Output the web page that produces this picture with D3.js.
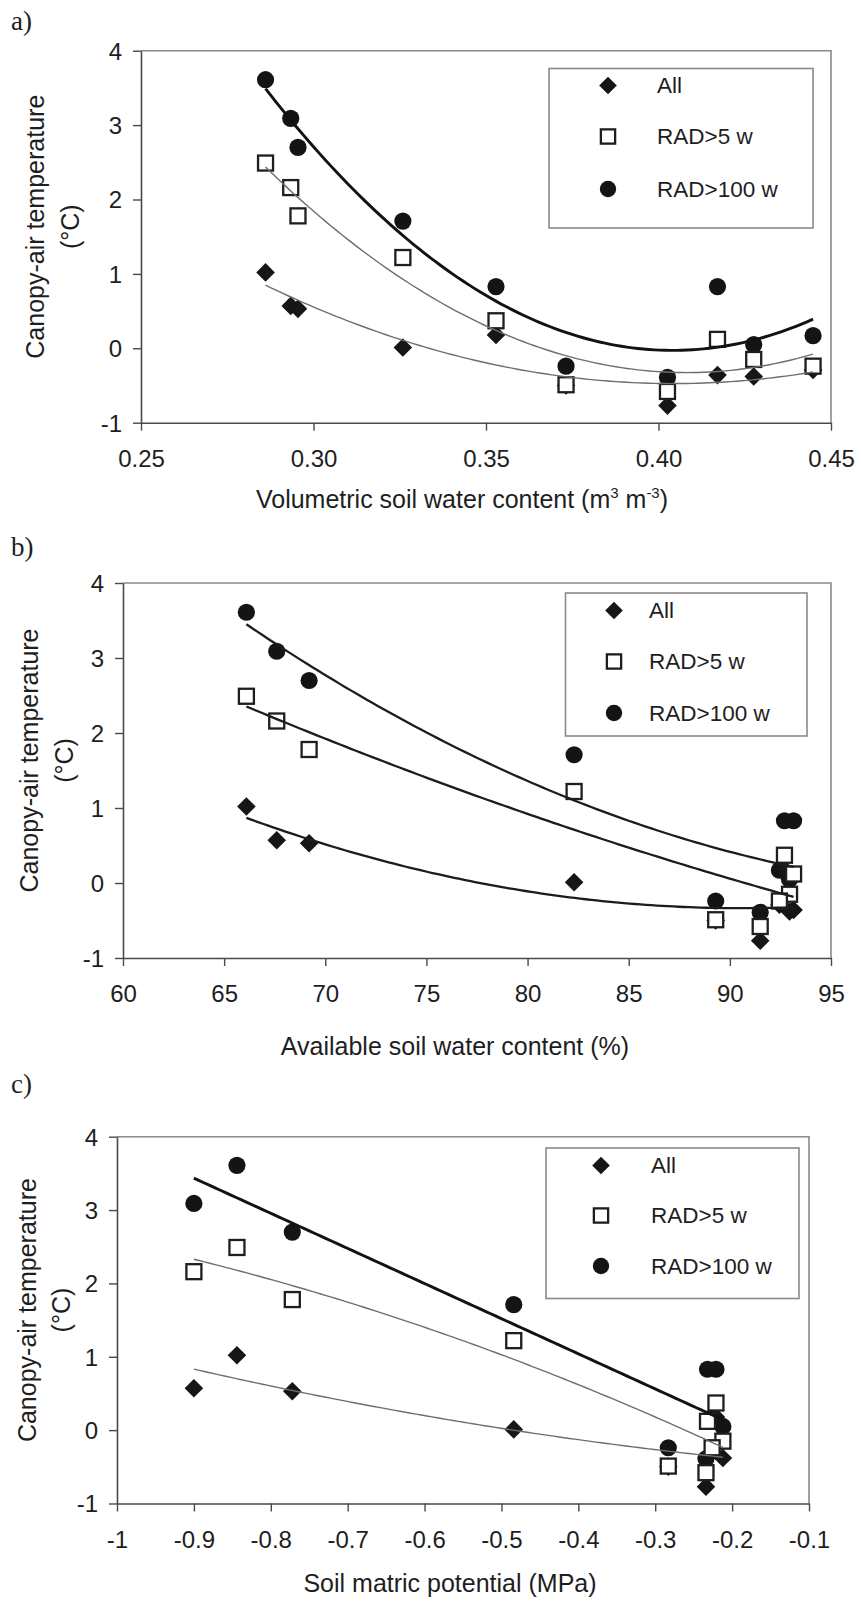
<!DOCTYPE html>
<html>
<head>
<meta charset="utf-8">
<script src="https://cdn.jsdelivr.net/npm/d3@7"></script>
<style>
  html, body { margin: 0; padding: 0; background: #fff; }
  svg text { font-family: "Liberation Sans", Arial, Helvetica, sans-serif; fill: #1e1e1e; }
</style>
</head>
<body>
<svg id="fig" width="861" height="1602"></svg>
<script>
// Canopy-air temperature difference (°C) for ten measurement days,
// plotted against three measures of soil water status.
const seriesNames = ["All", "RAD>5 w", "RAD>100 w"];
const allValues    = [1.02, 0.57, 0.53, 0.01, 0.18, -0.50, -0.77, -0.36, -0.38, -0.29];
const rad5Values   = [2.49, 2.16, 1.78, 1.22, 0.37, -0.49, -0.58, 0.12, -0.15, -0.24];
const rad100Values = [3.61, 3.09, 2.70, 1.71, 0.83, -0.24, -0.39, 0.83, 0.05, 0.17];

// Soil water measures for the same ten days
const volumetricWater = [0.2861, 0.2934, 0.2955, 0.3259, 0.3529, 0.3732, 0.4026, 0.4171, 0.4276, 0.4448];
const availableWater  = [66.1, 67.6, 69.2, 82.3, 92.7, 89.3, 91.5, 93.15, 92.95, 92.45];
const matricPotential = [-0.844, -0.900, -0.772, -0.484, -0.221, -0.283, -0.234, -0.232, -0.212, -0.226];

// Tick values
const yTicks = [-1, 0, 1, 2, 3, 4];
const volumetricTicks = [0.25, 0.30, 0.35, 0.40, 0.45];
const availableTicks = [60, 65, 70, 75, 80, 85, 90, 95];
const matricTicks = [-1, -0.9, -0.8, -0.7, -0.6, -0.5, -0.4, -0.3, -0.2, -0.1];

const hyphen = s => s.replace("\u2212", "-");

const svg = d3.select("#fig");
svg.append("rect").attr("width", 861).attr("height", 1602).attr("fill", "#fff");

// Least-squares polynomial trend line
function polyFit(xs, ys, deg) {
  const mx = d3.mean(xs);
  const n = deg + 1;
  const A = Array.from({ length: n }, () => new Array(n + 1).fill(0));
  xs.forEach((x0, k) => {
    const x = x0 - mx;
    for (let i = 0; i < n; i++) {
      for (let j = 0; j < n; j++) A[i][j] += Math.pow(x, i + j);
      A[i][n] += ys[k] * Math.pow(x, i);
    }
  });
  for (let i = 0; i < n; i++) {
    let p = i;
    for (let r = i + 1; r < n; r++) if (Math.abs(A[r][i]) > Math.abs(A[p][i])) p = r;
    [A[i], A[p]] = [A[p], A[i]];
    for (let r = 0; r < n; r++) {
      if (r === i) continue;
      const f = A[r][i] / A[i][i];
      for (let c = i; c <= n; c++) A[r][c] -= f * A[i][c];
    }
  }
  const coef = A.map((row, i) => row[n] / row[i]);
  return x => coef.reduce((s, c, i) => s + c * Math.pow(x - mx, i), 0);
}

function label(g, str, x, y, opts = {}) {
  const t = g.append("text")
    .attr("transform", `translate(${x},${y}) rotate(${opts.rotate || 0})`)
    .attr("text-anchor", opts.anchor || "start")
    .attr("font-size", opts.size || 24);
  if (opts.dy) t.attr("dy", opts.dy);
  if (opts.family) t.style("font-family", opts.family);
  t.text(str);
  return t;
}

const diamondPath = r => `M0,${-r}L${r},0L0,${r}L${-r},0Z`;

function drawMarker(g, kind, x, y, s = 1) {
  if (kind === 0) {
    g.append("path").attr("transform", `translate(${x},${y})`)
      .attr("d", diamondPath(9.3 * s)).attr("fill", "#161616");
  } else if (kind === 1) {
    const h = 7.5 * s;
    g.append("rect").attr("x", x - h).attr("y", y - h).attr("width", 2 * h).attr("height", 2 * h)
      .attr("fill", "#fff").attr("stroke", "#1e1e1e").attr("stroke-width", 2.3);
  } else {
    g.append("circle").attr("cx", x).attr("cy", y).attr("r", 8.6 * s).attr("fill", "#141414");
  }
}

const thin = { stroke: "#6e6e6e", width: 1.4 };
const thick = { stroke: "#121212", width: 2.9 };
const mid = { stroke: "#1c1c1c", width: 2.3 };

const panels = [
  {
    tag: "a)", tagY: 30,
    xValues: volumetricWater, xDomain: [0.25, 0.45], xTicks: volumetricTicks,
    xFmt: d => d.toFixed(2),
    box: { left: 141, right: 831, top: 50.7, bottom: 422.7 },
    xTitle: ["Volumetric soil water content (m", "3", " m", "-3", ")"], xTitleX: 462, xTitleY: 508,
    yTitleX: [35, 70], yTitleShift: -10,
    fitDeg: [2, 2, 2], lines: [thin, thin, thick],
    legend: { x0: 549, x1: 813, y0: 68.5, y1: 228, mx: 608, tx: 657, rows: [85.5, 136.5, 189] }
  },
  {
    tag: "b)", tagY: 556,
    xValues: availableWater, xDomain: [60, 95], xTicks: availableTicks,
    xFmt: d => String(d),
    box: { left: 123, right: 831, top: 583, bottom: 958 },
    xTitle: ["Available soil water content (%)"], xTitleX: 455, xTitleY: 1055,
    yTitleX: [29, 64], yTitleShift: -10,
    fitDeg: [2, 2, 2], lines: [mid, mid, mid],
    legend: { x0: 565.5, x1: 807, y0: 593, y1: 736, mx: 614, tx: 649, rows: [610.5, 661.5, 713] }
  },
  {
    tag: "c)", tagY: 1093,
    xValues: matricPotential, xDomain: [-1, -0.1], xTicks: matricTicks,
    xFmt: d => (Math.abs(d + 1) < 1e-9 ? "-1" : hyphen(d3.format(".1f")(d))),
    box: { left: 117, right: 809, top: 1136.7, bottom: 1503.5 },
    xTitle: ["Soil matric potential (MPa)"], xTitleX: 450, xTitleY: 1592,
    yTitleX: [27, 61], yTitleShift: -10,
    fitDeg: [2, 2, 1], lines: [thin, thin, thick],
    legend: { x0: 546, x1: 799, y0: 1148, y1: 1298.5, mx: 601, tx: 651, rows: [1165.5, 1215.5, 1266] }
  }
];

const seriesValues = [allValues, rad5Values, rad100Values];

panels.forEach(p => {
  const g = svg.append("g");
  const b = p.box;
  const x = d3.scaleLinear().domain(p.xDomain).range([b.left, b.right]);
  const y = d3.scaleLinear().domain([-1, 4]).range([b.bottom, b.top]);

  // panel letter
  label(g, p.tag, 11, p.tagY, { size: 27, family: "'Liberation Serif', 'DejaVu Serif', serif" });

  // top and right frame
  g.append("path")
    .attr("d", `M${b.left},${b.top}H${b.right}V${b.bottom}`)
    .attr("fill", "none").attr("stroke", "#8a8a8a").attr("stroke-width", 1.6);

  // axes
  const xAxis = g.append("g").attr("transform", `translate(0,${b.bottom})`)
    .call(d3.axisBottom(x).tickValues(p.xTicks).tickSize(8).tickSizeOuter(0).tickFormat(p.xFmt));
  const yAxis = g.append("g").attr("transform", `translate(${b.left},0)`)
    .call(d3.axisLeft(y).tickValues(yTicks).tickSize(8).tickSizeOuter(0).tickFormat(d => hyphen(String(d))));
  [xAxis, yAxis].forEach(a => {
    a.select(".domain").attr("stroke", "#4a4a4a").attr("stroke-width", 1.6);
    a.selectAll(".tick line").attr("stroke", "#4a4a4a").attr("stroke-width", 1.4);
    a.selectAll(".tick text").attr("fill", "#1e1e1e").attr("font-size", 24)
      .style("font-family", "'Liberation Sans', Arial, sans-serif");
  });
  xAxis.selectAll(".tick text").attr("y", 27).attr("dy", "0.71em");
  yAxis.selectAll(".tick text").attr("x", -19).attr("dy", "0.35em");

  // axis titles
  const yc = (b.top + b.bottom) / 2 + p.yTitleShift;
  label(g, "Canopy-air temperature", p.yTitleX[0], yc, { size: 25, anchor: "middle", rotate: -90, dy: "0.35em" });
  label(g, "(\u00B0C)", p.yTitleX[1], yc, { size: 25, anchor: "middle", rotate: -90, dy: "0.35em" });

  const xt = g.append("text")
    .attr("x", p.xTitleX).attr("y", p.xTitleY)
    .attr("text-anchor", "middle").attr("font-size", 25);
  p.xTitle.forEach((part, i) => {
    if (i % 2 === 1) {
      xt.append("tspan").attr("dy", -10).attr("font-size", 15).text(part);
    } else {
      const ts = xt.append("tspan").text(part);
      if (i > 0) ts.attr("dy", 10);
    }
  });

  // markers: circles, then diamonds, then open squares
  const mg = g.append("g");
  [2, 0, 1].forEach(s => {
    seriesValues[s].forEach((v, i) => drawMarker(mg, s, x(p.xValues[i]), y(v)));
  });

  // trend lines
  const lineGen = d3.line().x(d => x(d[0])).y(d => y(d[1]));
  [0, 1, 2].forEach(s => {
    const f = polyFit(p.xValues, seriesValues[s], p.fitDeg[s]);
    const [lo, hi] = d3.extent(p.xValues);
    const pts = d3.range(0, 101).map(k => {
      const xv = lo + (hi - lo) * k / 100;
      return [xv, f(xv)];
    });
    g.append("path").attr("d", lineGen(pts))
      .attr("fill", "none").attr("stroke", p.lines[s].stroke)
      .attr("stroke-width", p.lines[s].width).attr("stroke-linejoin", "round");
  });

  // legend
  const L = p.legend;
  const lg = g.append("g");
  lg.append("rect").attr("x", L.x0).attr("y", L.y0)
    .attr("width", L.x1 - L.x0).attr("height", L.y1 - L.y0)
    .attr("fill", "#fff").attr("stroke", "#8a8a8a").attr("stroke-width", 1.6);
  seriesNames.forEach((name, s) => {
    drawMarker(lg, s, L.mx, L.rows[s], 0.95);
    label(lg, name, L.tx, L.rows[s], { size: 22.5, dy: "0.35em" });
  });
});
</script>
</body>
</html>
